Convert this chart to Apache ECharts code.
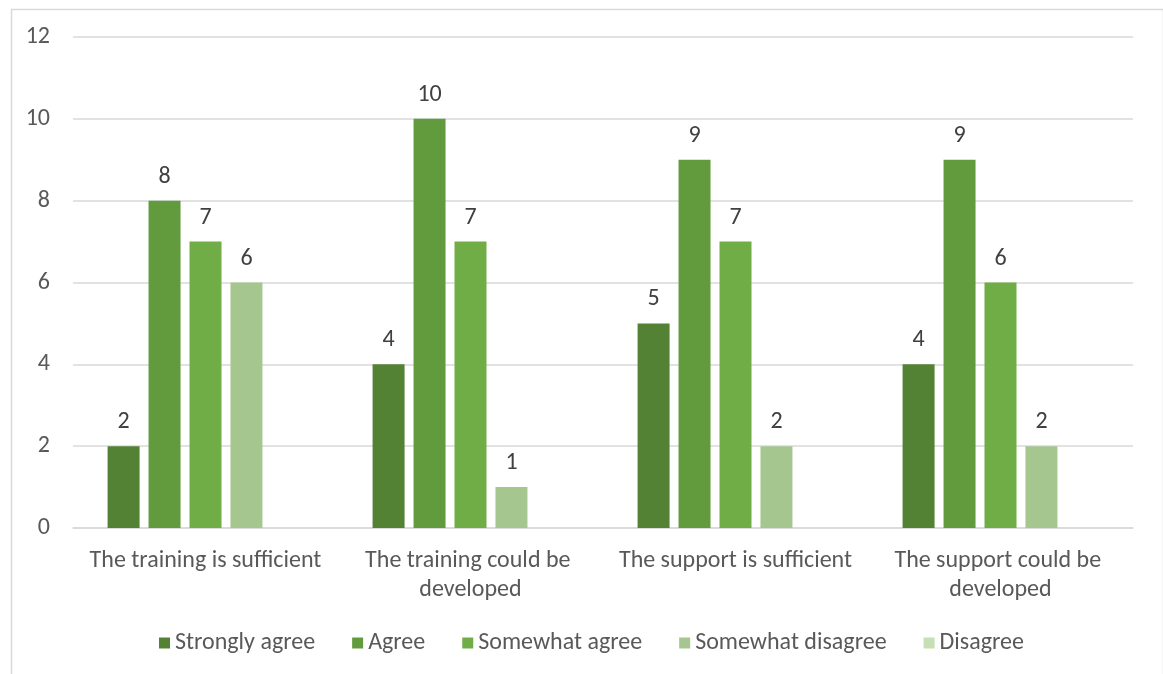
<!DOCTYPE html>
<html><head><meta charset="utf-8">
<script src="https://cdn.jsdelivr.net/npm/echarts@6/dist/echarts.min.js"></script>
<style>html,body{margin:0;padding:0;background:#fff}#c{width:1163px;height:674px}</style>
</head><body><div id="c"></div>
<script>
const categories = ['The training is sufficient', 'The training could be developed', 'The support is sufficient', 'The support could be developed'];
const seriesNames = ['Strongly agree', 'Agree', 'Somewhat agree', 'Somewhat disagree', 'Disagree'];
const stronglyAgree = [2, 4, 5, 4];
const agree = [8, 10, 9, 9];
const somewhatAgree = [7, 7, 7, 6];
const somewhatDisagree = [6, 1, 2, 2];
const disagree = [null, null, null, null];
const yTicks = [0, 2, 4, 6, 8, 10, 12];

const colors = ['#548235', '#629B3D', '#70AD47', '#A5C78F', '#C5E0B4'];
const values = [stronglyAgree, agree, somewhatAgree, somewhatDisagree, disagree];
const font = 'Carlito, "Open Sans", "Noto Sans", sans-serif';

const chart = echarts.init(document.getElementById('c'));
chart.setOption({
  animation: false,
  textStyle: {fontFamily: font},
  graphic: [{type: 'rect', left: 9, top: 7, shape: {width: 1152, height: 700}, style: {fill: 'none', stroke: '#d9d9d9', lineWidth: 1.5}, silent: true, z: -1}],
  grid: {left: 73, right: 30, top: 37, bottom: 146},
  legend: {
    bottom: 14, left: 154, itemWidth: 11, itemHeight: 11, itemGap: 37,
    icon: 'rect',
    textStyle: {fontSize: 24, color: '#595959', fontFamily: font},
    data: seriesNames
  },
  xAxis: {
    type: 'category', data: categories,
    axisLine: {lineStyle: {color: '#d9d9d9', width: 1.5}},
    axisTick: {show: false},
    axisLabel: {fontSize: 24, color: '#595959', interval: 0, margin: 18, width: 250, overflow: 'break', lineHeight: 29, fontFamily: font}
  },
  yAxis: {
    type: 'value', min: yTicks[0], max: yTicks[yTicks.length - 1], interval: 2,
    axisLine: {show: false}, axisTick: {show: false},
    splitLine: {lineStyle: {color: '#d9d9d9', width: 1.5}},
    axisLabel: {fontSize: 24, color: '#595959', margin: 23, fontFamily: font}
  },
  series: seriesNames.map((n, i) => ({
    name: n, type: 'bar', data: values[i],
    barWidth: 32, barGap: '28%',
    itemStyle: {color: colors[i]},
    label: {show: true, position: 'top', distance: 12, fontSize: 24, color: '#404040', fontFamily: font}
  }))
});
</script></body></html>
